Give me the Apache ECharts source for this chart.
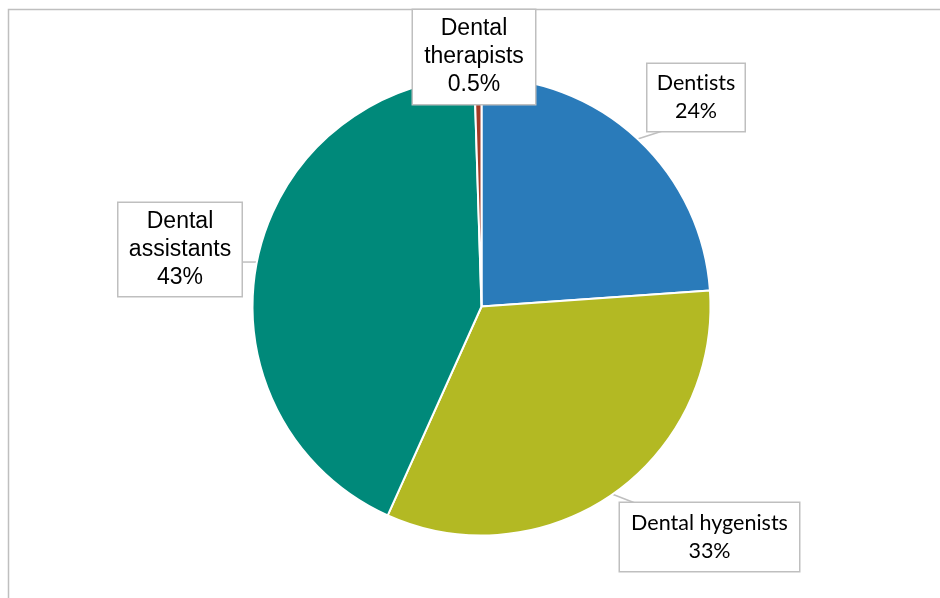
<!DOCTYPE html>
<html>
<head>
<meta charset="utf-8">
<script src="https://cdn.jsdelivr.net/npm/echarts@6/dist/echarts.min.js"></script>
<style>
  html, body { margin: 0; padding: 0; background: #ffffff; }
  #chart { width: 940px; height: 598px; }
</style>
</head>
<body>
<div id="chart"></div>
<script>
// Dental workforce share by occupation
const categories = ['Dentists', 'Dental hygenists', 'Dental assistants', 'Dental therapists'];
const shares = [24, 33, 43, 0.5];
const labelNames = ['Dentists', 'Dental hygenists', 'Dental\nassistants', 'Dental\ntherapists'];
const colors = ['#2a7bba', '#b3b923', '#00897a', '#a33a25'];

// Callout boxes: centre, size and font for each slice label
const boxes = [
  { cx: 696,   cy: 97.5, w: 97,  h: 67, font: 'Lato',            size: 21.5, lines: 2 },
  { cx: 709.5, cy: 537,  w: 179, h: 68, font: 'Lato',            size: 21.5, lines: 2 },
  { cx: 180,   cy: 249.5,w: 123, h: 93, font: 'Liberation Sans', size: 23,   lines: 3 },
  { cx: 474,   cy: 57,   w: 122, h: 94, font: 'Liberation Sans', size: 23,   lines: 3 }
];
const LINE_H = 28;
const LINE_INSET = 15;

// Lato joins "ti" into a ligature; a zero-width non-joiner keeps the letters apart
const noLigature = s => s.replace(/ti/g, 't\u200Ci');

const chart = echarts.init(document.getElementById('chart'), null, { renderer: 'canvas' });

const data = categories.map((name, i) => {
  const b = boxes[i];
  const pad = (b.h - b.lines * LINE_H) / 2;
  return {
    name: name,
    value: shares[i],
    itemStyle: { color: colors[i] },
    label: {
      formatter: p => {
        const t = labelNames[p.dataIndex] + '\n' + p.value + '%';
        return b.font === 'Lato' ? noLigature(t) : t;
      },
      fontFamily: b.font,
      fontSize: b.size,
      lineHeight: LINE_H,
      width: b.w,
      padding: [pad, 0, pad, 0]
    },
    labelLine: { show: i !== 3 }
  };
});

const clamp = (v, lo, hi) => Math.max(lo, Math.min(hi, v));

chart.setOption({
  backgroundColor: '#ffffff',
  animation: false,
  graphic: [{
    type: 'rect',
    shape: { x: 8.5, y: 9.5, width: 1000, height: 700 },
    style: { fill: 'none', stroke: '#bfbfbf', lineWidth: 1.5 },
    silent: true,
    z: -10
  }],
  series: [{
    type: 'pie',
    center: [481.5, 306.5],
    radius: [0, 229],
    startAngle: 90,
    clockwise: true,
    avoidLabelOverlap: false,
    itemStyle: { borderColor: '#ffffff', borderWidth: 2 },
    label: {
      show: true,
      position: 'outside',
      color: '#000000',
      align: 'center',
      backgroundColor: '#ffffff',
      borderColor: '#bfbfbf',
      borderWidth: 1.5
    },
    labelLine: {
      show: true,
      length: 10,
      length2: 10,
      lineStyle: { color: '#bfbfbf', width: 1.5 }
    },
    labelLayout: function (params) {
      const b = boxes[params.dataIndex];
      const out = { x: b.cx, y: b.cy, align: 'center', verticalAlign: 'middle' };
      const pts = params.labelLinePoints;
      if (pts && pts.length) {
        // Run the leader from the slice edge to the nearest side of its callout box
        const s = pts[0];
        const left = b.cx - b.w / 2, right = b.cx + b.w / 2;
        const top = b.cy - b.h / 2, bottom = b.cy + b.h / 2;
        let ex, ey;
        if (s[1] > bottom || s[1] < top) {
          ex = clamp(s[0], left + LINE_INSET, right - LINE_INSET);
          ey = s[1] > bottom ? bottom : top;
        } else {
          ex = s[0] > right ? right : left;
          ey = clamp(s[1], top + LINE_INSET, bottom - LINE_INSET);
        }
        out.labelLinePoints = [s, [ex, ey]];
      }
      return out;
    },
    emphasis: { disabled: true },
    data: data
  }]
});
</script>
</body>
</html>
